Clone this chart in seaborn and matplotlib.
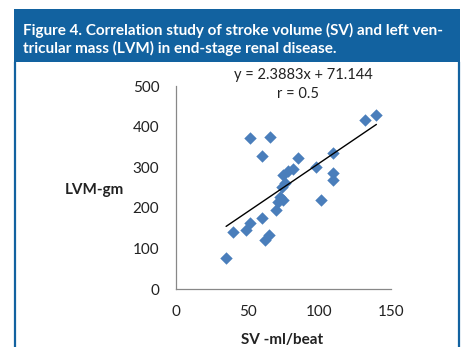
import matplotlib
matplotlib.use("Agg")
import matplotlib.pyplot as plt
import seaborn as sns
import pandas as pd
from matplotlib.patches import Rectangle
from matplotlib.lines import Line2D

# ---- data ----
sv_ml_beat = [35, 40, 49, 52, 60, 62, 65, 52, 66, 60, 85, 82, 78, 75, 76, 74, 73, 71,
              75, 70, 98, 101, 110, 110, 110, 132, 140]
lvm_gm = [77, 141, 147, 163, 176, 121, 133, 371, 375, 327, 322, 296, 291, 281, 262, 252,
          228, 214, 220, 196, 302, 220, 334, 287, 270, 417, 429]
trend_slope = 2.3883
trend_intercept = 71.144
r_value = 0.5
x_ticks = [0, 50, 100, 150]
y_ticks = [0, 100, 200, 300, 400, 500]
title_lines = ["Figure 4. Correlation study of stroke volume (SV) and left ven-",
               "tricular mass (LVM) in end-stage renal disease."]
x_label = "SV -ml/beat"
y_label = "LVM-gm"

df = pd.DataFrame({"SV": sv_ml_beat, "LVM": lvm_gm})

sns.set_style("white")
plt.rcParams["font.family"] = ["Lato", "DejaVu Sans"]

W, H = 468, 347
fig = plt.figure(figsize=(W / 100, H / 100), dpi=100)
fig.patch.set_facecolor("white")

blue = "#1262a0"
# header box
fig.patches.append(Rectangle((14 / W, 1 - 62 / H), 446 / W, 53 / H, transform=fig.transFigure,
                             facecolor=blue, edgecolor="none", zorder=0))
# panel side borders
fig.lines.append(Line2D([14.5 / W, 14.5 / W], [0, 1 - 62 / H], transform=fig.transFigure,
                        color=blue, lw=1.6))
fig.lines.append(Line2D([458.5 / W, 458.5 / W], [0, 1 - 62 / H], transform=fig.transFigure,
                        color=blue, lw=1.6))

tfont = dict(family=["Lato", "DejaVu Sans"], weight="bold",
             color="white", fontsize=11.0)
fig.text(23 / W, 1 - 35 / H, title_lines[0], ha="left", va="baseline", **tfont)
fig.text(23 / W, 1 - 52.5 / H, title_lines[1], ha="left", va="baseline", **tfont)

ax = fig.add_axes([176 / W, 1 - 289.3 / H, (390.7 - 176) / W, (289.3 - 86) / H])
sns.scatterplot(data=df, x="SV", y="LVM", marker="D", s=40, color="#4a7ebb",
                edgecolor="#4a7ebb", linewidth=0, ax=ax, zorder=3)
xs = [min(sv_ml_beat), max(sv_ml_beat)]
ax.plot(xs, [trend_slope * v + trend_intercept for v in xs], color="black", lw=1.0, zorder=4)

ax.set_xlim(0, 150)
ax.set_ylim(0, 500)
ax.set_xticks(x_ticks)
ax.set_yticks(y_ticks)
ax.tick_params(axis="both", labelsize=11, colors="#888888", labelcolor="#222222",
               length=4, width=0.9, direction="out")
ax.tick_params(axis="y", pad=8)
ax.tick_params(axis="x", pad=7)
for s in ["top", "right"]:
    ax.spines[s].set_visible(False)
for s in ["left", "bottom"]:
    ax.spines[s].set_color("#888888")
    ax.spines[s].set_linewidth(0.9)
ax.set_facecolor("none")

ax.set_xlabel("")
ax.set_ylabel("")
fig.text(282 / W, 1 - 340 / H, x_label, ha="center", va="center", fontsize=11,
         fontweight="bold", color="#222222")
fig.text(94 / W, 1 - 190 / H, y_label, ha="center", va="center", fontsize=11,
         fontweight="bold", color="#222222")

fig.text(303 / W, 1 - 75 / H, f"y = {trend_slope}x + {trend_intercept}",
         ha="center", va="center", fontsize=10.5, color="#222222")
fig.text(298 / W, 1 - 94 / H, f"r = {r_value}", ha="center", va="center", fontsize=10.5,
         color="#222222")

fig.savefig("out.png", dpi=100, facecolor="white")
